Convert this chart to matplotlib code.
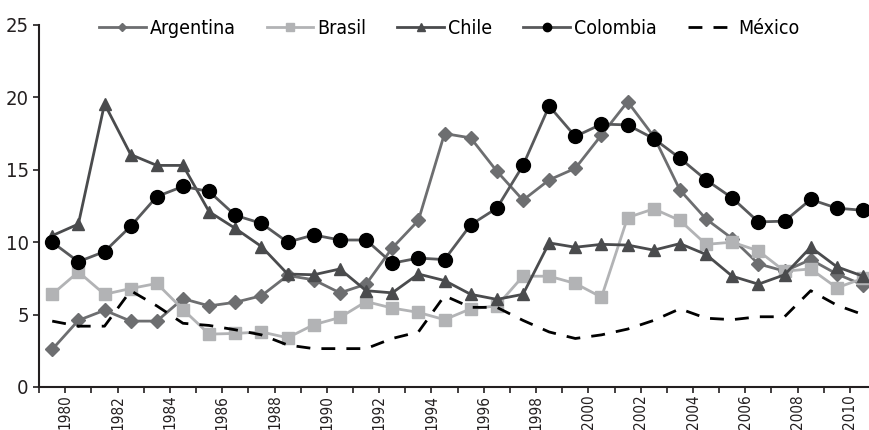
import matplotlib
matplotlib.use("Agg")
import matplotlib.pyplot as plt
from matplotlib import font_manager
import numpy as np

# pick a narrow face if one is installed
narrow = None
for f in font_manager.fontManager.ttflist:
    if 'Narrow' in f.name or 'Narrow' in f.fname or f.stretch in ('condensed', 'semi-condensed'):
        narrow = f
        break
if narrow is not None:
    plt.rcParams['font.family'] = [narrow.name, 'DejaVu Sans']
    plt.rcParams['font.stretch'] = narrow.stretch
else:
    plt.rcParams['font.family'] = ['DejaVu Sans']

n_years = 32
year_labels = [str(y) for y in range(1980, 2011, 2)]

argentina = [2.6, 4.6, 5.3, 4.55, 4.55, 6.1, 5.6, 5.85, 6.3, 7.7,
             7.4, 6.5, 7.1, 9.6, 11.5, 17.5, 17.2, 14.9, 12.9, 14.3,
             15.1, 17.4, 19.7, 17.3, 13.6, 11.6, 10.25, 8.5, 8.0, 8.8,
             7.8, 7.05]
brasil = [6.4, 7.95, 6.4, 6.8, 7.15, 5.35, 3.65, 3.7, 3.8, 3.4,
          4.3, 4.8, 5.9, 5.45, 5.15, 4.65, 5.4, 5.6, 7.65, 7.65,
          7.15, 6.2, 11.7, 12.3, 11.5, 9.85, 10.0, 9.4, 8.0, 8.15,
          6.85, 7.5]
chile = [10.45, 11.25, 19.55, 16.05, 15.3, 15.3, 12.1, 10.95, 9.7, 7.8,
         7.75, 8.15, 6.65, 6.5, 7.8, 7.35, 6.4, 6.05, 6.4, 9.95,
         9.65, 9.85, 9.8, 9.45, 9.9, 9.15, 7.65, 7.1, 7.75, 9.65,
         8.3, 7.65]
colombia = [10.0, 8.65, 9.35, 11.1, 13.15, 13.85, 13.5, 11.85, 11.3, 10.0,
            10.5, 10.15, 10.15, 8.55, 8.9, 8.8, 11.2, 12.35, 15.3, 19.4,
            17.3, 18.15, 18.1, 17.15, 15.8, 14.3, 13.05, 11.4, 11.45, 12.95,
            12.35, 12.2]
mexico = [4.55, 4.2, 4.2, 6.65, 5.6, 4.4, 4.25, 3.95, 3.6, 2.9,
          2.65, 2.65, 2.65, 3.35, 3.8, 6.3, 5.5, 5.5, 4.6, 3.8,
          3.35, 3.6, 4.0, 4.6, 5.4, 4.75, 4.65, 4.85, 4.85, 6.65,
          5.65, 5.0]

x = np.arange(n_years)

fig = plt.figure(figsize=(8.7, 4.3), dpi=100)
ax = fig.add_axes([0.045, 0.1, 0.962, 0.842])

ax.plot(x, argentina, color='#6d6e70', lw=2, marker='D', ms=7,
        label='Argentina')
ax.plot(x, brasil, color='#b2b3b5', lw=2, marker='s', ms=9,
        label='Brasil')
ax.plot(x, chile, color='#4a4b4d', lw=2, marker='^', ms=9,
        label='Chile')
ax.plot(x, colombia, color='#58595b', lw=2, marker='o', ms=10,
        markerfacecolor='black', markeredgecolor='black', label='Colombia')
ax.plot(x, mexico, color='black', lw=2, ls=(0, (5, 4)), label='México')

ax.set_xlim(-0.5, 31.5)
ax.set_ylim(0, 25)
ax.set_yticks([0, 5, 10, 15, 20, 25])

ax.set_xticks(np.arange(0.5, 31, 2))
ax.set_xticklabels(year_labels, rotation=90)
ax.set_xticks(np.arange(-0.5, 31, 1), minor=True)

for side in ['top', 'right']:
    ax.spines[side].set_visible(False)
for side in ['left', 'bottom']:
    ax.spines[side].set_color('#231f20')
    ax.spines[side].set_linewidth(1.5)

ax.tick_params(axis='both', which='both', colors='#231f20',
               length=4, width=1.2, direction='out')
ax.tick_params(axis='y', labelsize=14.5)
ax.tick_params(axis='x', labelsize=11, pad=1.5)

leg = ax.legend(loc='upper center', bbox_to_anchor=(0.49, 1.065), ncol=5,
                frameon=False, fontsize=14, handlelength=2.4,
                columnspacing=1.6, handletextpad=0.2, markerscale=0.6)

fig.savefig('out.png', dpi=100)
